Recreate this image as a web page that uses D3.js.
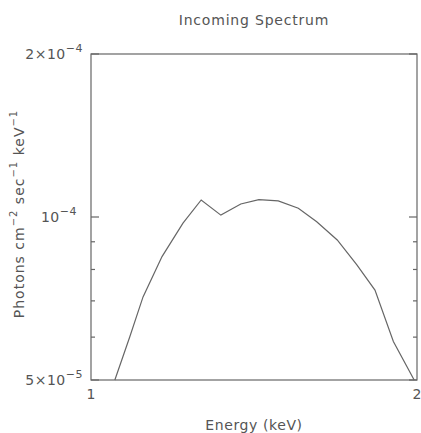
<!DOCTYPE html>
<html>
<head>
<meta charset="utf-8">
<script src="https://cdn.jsdelivr.net/npm/d3@7"></script>
<style>
  body { margin: 0; background: #fff; }
  text { font-family: "DejaVu Sans", sans-serif; fill: #555; }
</style>
</head>
<body>
<div id="chart"></div>
<script>
// spectrum
var energy = [1.052, 1.086, 1.117, 1.163, 1.216, 1.264, 1.318, 1.375, 1.429, 1.489, 1.554, 1.616, 1.688, 1.760, 1.829, 1.902, 1.988];
var flux = [5.0e-5, 6.01e-5, 7.12e-5, 8.45e-5, 9.74e-5, 1.075e-4, 1.008e-4, 1.057e-4, 1.077e-4, 1.071e-4, 1.038e-4, 9.80e-5, 9.07e-5, 8.16e-5, 7.33e-5, 5.89e-5, 5.0e-5];

var xTicks = [1, 2];
var yMajor = [5e-5, 1e-4, 2e-4];
var yMinor = [6e-5, 7e-5, 8e-5, 9e-5];
var yLabels = [
    {v: 2e-4, mant: "2×10", exp: "−4"},
    {v: 1e-4, mant: "10", exp: "−4"},
    {v: 5e-5, mant: "5×10", exp: "−5"}
];

var W = 421, H = 433;
var margin = {top: 54, right: 4, bottom: 53, left: 91},
    width = W - margin.left - margin.right,
    height = H - margin.top - margin.bottom;

var ink = "#666";

var svg = d3.select("#chart")
    .append("svg")
    .attr("width", W)
    .attr("height", H);

var g = svg.append("g")
    .attr("transform", "translate(" + margin.left + "," + margin.top + ")");

var x = d3.scaleLog().domain([1, 2]).range([0, width]);
var y = d3.scaleLog().domain([5e-5, 2e-4]).range([height, 0]);

// frame
g.append("rect")
    .attr("width", width)
    .attr("height", height)
    .attr("fill", "none")
    .attr("stroke", ink)
    .attr("stroke-width", 1.2);

// y ticks, drawn inward on both sides
function yTickLines(vals, len) {
    vals.forEach(function(v) {
        g.append("line")
            .attr("x1", 0).attr("x2", len)
            .attr("y1", y(v)).attr("y2", y(v))
            .attr("stroke", ink).attr("stroke-width", 1.2);
        g.append("line")
            .attr("x1", width).attr("x2", width - len)
            .attr("y1", y(v)).attr("y2", y(v))
            .attr("stroke", ink).attr("stroke-width", 1.2);
    });
}
yTickLines(yMajor, 8);
yTickLines(yMinor, 4);

// y tick labels with superscript exponent
yLabels.forEach(function(d) {
    var t = g.append("text")
        .attr("x", d.mant == "10" ? -14 : -8)
        .attr("y", y(d.v) + 5)
        .attr("text-anchor", "end")
        .style("font-size", "14px")
        .style("letter-spacing", "0.5px");
    t.append("tspan").text(d.mant);
    t.append("tspan").attr("dy", -7).style("font-size", "11px").text(d.exp);
});

// x tick labels
xTicks.forEach(function(v) {
    g.append("text")
        .attr("x", x(v))
        .attr("y", height + 19)
        .attr("text-anchor", "middle")
        .style("font-size", "14px")
        .text(v);
});

// spectrum line
var valueline = d3.line()
    .x(function(d, i) { return x(energy[i]); })
    .y(function(d) { return y(d); });

g.append("path")
    .attr("d", valueline(flux))
    .attr("fill", "none")
    .attr("stroke", ink)
    .attr("stroke-width", 1.2);

// title
svg.append("text")
    .attr("x", margin.left + width / 2)
    .attr("y", 25)
    .attr("text-anchor", "middle")
    .style("font-size", "14px")
    .style("letter-spacing", "0.8px")
    .text("Incoming Spectrum");

// x axis title
svg.append("text")
    .attr("x", margin.left + width / 2)
    .attr("y", 430)
    .attr("text-anchor", "middle")
    .style("font-size", "14px")
    .style("letter-spacing", "0.6px")
    .text("Energy (keV)");

// y axis title
var yl = svg.append("text")
    .attr("transform", "translate(24," + (margin.top + height / 2 - 3) + ") rotate(-90)")
    .attr("text-anchor", "middle")
    .style("font-size", "14px")
    .style("letter-spacing", "1px");
yl.append("tspan").text("Photons cm");
yl.append("tspan").attr("dy", -7).style("font-size", "10px").text("−2");
yl.append("tspan").attr("dy", 7).text(" sec");
yl.append("tspan").attr("dy", -7).style("font-size", "10px").text("−1");
yl.append("tspan").attr("dy", 7).text(" keV");
yl.append("tspan").attr("dy", -7).style("font-size", "10px").text("−1");
</script>
</body>
</html>
